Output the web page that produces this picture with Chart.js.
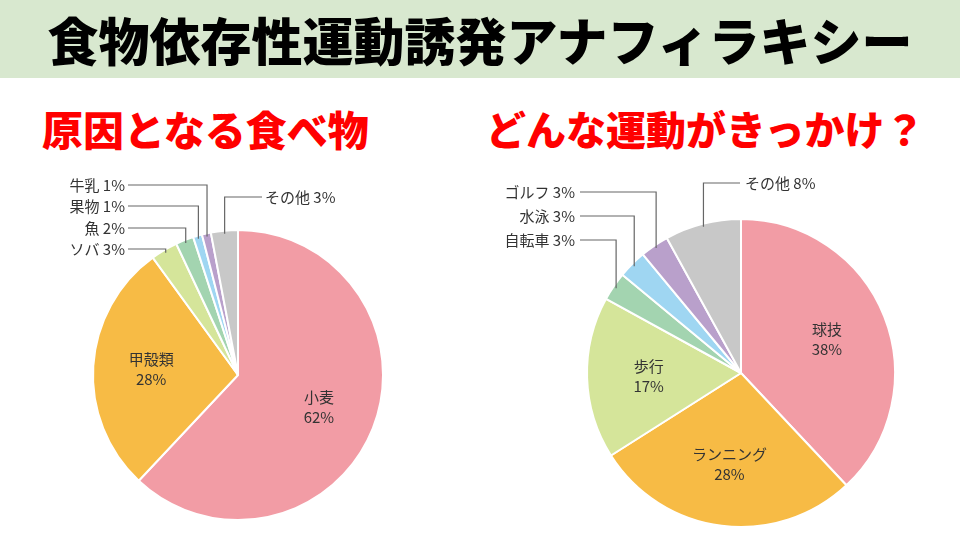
<!DOCTYPE html><html><head><meta charset="utf-8">
<script src="https://cdn.jsdelivr.net/npm/chart.js@4"></script>
<style>
body{margin:0;width:960px;height:540px;background:#fff;position:relative;overflow:hidden;font-family:"Noto Sans CJK JP",sans-serif}
#bar{position:absolute;left:0;top:0;width:960px;height:78px;background:#d8e8cf;text-align:center;font-weight:900;font-size:51px;line-height:78px;color:#000}
.sub{position:absolute;top:100px;color:#ff0000;font-weight:900;font-size:41px;line-height:56px}
canvas{position:absolute}
</style></head><body>
<div id="bar">食物依存性運動誘発アナフィラキシー</div>
<div class="sub" style="left:42px">原因となる食べ物</div>
<div class="sub" style="left:486px;font-size:40px">どんな運動がきっかけ？</div>
<canvas id="c1" width="480" height="390" style="left:0;top:150px"></canvas>
<canvas id="c2" width="480" height="390" style="left:480px;top:150px"></canvas>
<script>
const foodLabels=["小麦","甲殻類","ソバ","魚","果物","牛乳","その他"];
const foodValues=[62,28,3,2,1,1,3];
const exLabels=["球技","ランニング","歩行","自転車","水泳","ゴルフ","その他"];
const exValues=[38,28,17,3,3,3,8];
const colors=["#f29ca5","#f7bb45","#d5e59a","#a3d4b0","#9fd6f2","#b9a0cb","#c8c8c8"];
const FONT='"Noto Sans CJK JP",sans-serif';

function makePlugin(inside,outside){
 return {id:'lbl',afterDraw(chart){
  const ctx=chart.ctx;const meta=chart.getDatasetMeta(0);
  const labels=chart.data.labels,vals=chart.data.datasets[0].data;
  ctx.save();
  meta.data.forEach((arc,i)=>{
   const p=arc.getProps(['x','y','startAngle','endAngle','outerRadius'],true);
   const mid=(p.startAngle+p.endAngle)/2;
   if(inside.includes(i)){
    const r=p.outerRadius*0.6;
    const x=p.x+Math.cos(mid)*r,y=p.y+Math.sin(mid)*r;
    ctx.fillStyle='#333';ctx.font='15px '+FONT;ctx.textAlign='center';ctx.textBaseline='middle';
    ctx.fillText(labels[i],x,y-10);ctx.fillText(vals[i]+'%',x,y+10);
   }
   const o=outside[i];
   if(o){
    const ex=p.x+Math.cos(mid)*(p.outerRadius-3),ey=p.y+Math.sin(mid)*(p.outerRadius-3);
    ctx.strokeStyle='#666';ctx.lineWidth=1.2;ctx.beginPath();
    ctx.moveTo(ex,ey);ctx.lineTo(ex,o.y);ctx.lineTo(o.lx,o.y);ctx.stroke();
    ctx.fillStyle='#333';ctx.font='15px '+FONT;ctx.textBaseline='middle';
    ctx.textAlign=o.align;ctx.fillText(labels[i]+' '+vals[i]+'%',o.tx,o.y);
   }
  });
  ctx.restore();
 }};
}
function pie(id,labels,values,pad,inside,outside){
 new Chart(document.getElementById(id),{type:'pie',
  data:{labels:labels,datasets:[{data:values,backgroundColor:colors,borderColor:'#fff',borderWidth:2}]},
  options:{responsive:false,animation:false,layout:{padding:pad},
   plugins:{legend:{display:false},tooltip:{enabled:false}}},
  plugins:[makePlugin(inside,outside)]});
}
pie('c1',foodLabels,foodValues,{top:79,bottom:19,left:92,right:96},[0,1],
 {2:{y:99,lx:128,tx:125,align:'right'},3:{y:78,lx:128,tx:125,align:'right'},
  4:{y:56,lx:128,tx:125,align:'right'},5:{y:35,lx:128,tx:125,align:'right'},
  6:{y:47,lx:262,tx:265,align:'left'}});
pie('c2',exLabels,exValues,{top:68,bottom:12,left:106,right:64},[0,1,2],
 {3:{y:90,lx:100,tx:95,align:'right'},4:{y:66,lx:100,tx:95,align:'right'},
  5:{y:42,lx:100,tx:95,align:'right'},6:{y:33,lx:260,tx:265,align:'left'}});
</script></body></html>
